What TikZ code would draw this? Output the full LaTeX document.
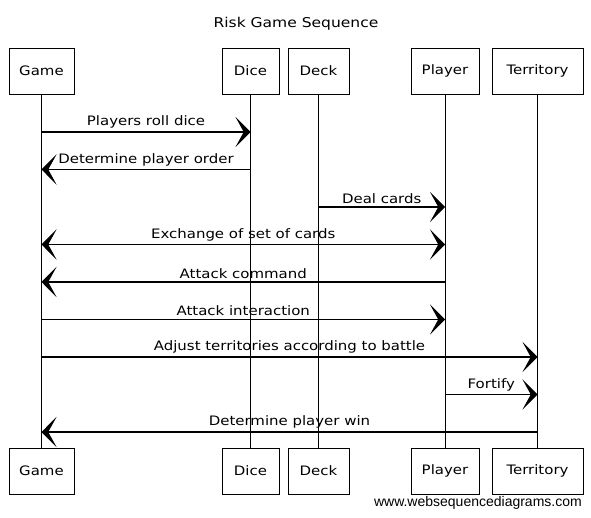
\documentclass[tikz,border=0pt]{standalone}
\usepackage{fontspec}
\usetikzlibrary{arrows.meta}
\newfontfamily\wsdfont{Liberation Sans}
\newfontfamily\seqfont[FakeStretch=1.15]{DejaVu Sans}
\newcommand{\SeqArrowSize}{15}

\begin{document}
\begin{tikzpicture}[x=1pt, y=-1pt, >={Stealth[length=\SeqArrowSize pt, width=2*\SeqArrowSize pt, inset=0.55*\SeqArrowSize pt]},
    actor/.style={draw, line width=0.9pt, minimum height=46pt, inner sep=0pt, font=\seqfont\fontsize{13}{15}\selectfont},
    lifeline/.style={line width=0.8pt},
    msg/.style={line width=1.1pt},
    lbl/.style={midway, above=2pt, inner sep=1pt, font=\seqfont\fontsize{13}{15}\selectfont}]
    \useasboundingbox (0,0) rectangle (591,518);

    % title
    \node (title) at (296,24) [font=\seqfont\fontsize{13.5}{15}\selectfont] {Risk Game Sequence};

    % draw participants, top and bottom
    \node (gameT) at (41.5,71) [actor, minimum width=65pt] {Game};
    \node (diceT) at (250.5,71) [actor, minimum width=57pt] {Dice};
    \node (deckT) at (318.5,71) [actor, minimum width=61pt] {Deck};
    \node (playerT) at (445,71) [actor, minimum width=68pt] {Player};
    \node (terrT) at (537.5,71) [actor, minimum width=91pt] {Territory};

    \node (gameB) at (41.5,471) [actor, minimum width=65pt] {Game};
    \node (diceB) at (250.5,471) [actor, minimum width=57pt] {Dice};
    \node (deckB) at (318.5,471) [actor, minimum width=61pt] {Deck};
    \node (playerB) at (445,471) [actor, minimum width=68pt] {Player};
    \node (terrB) at (537.5,471) [actor, minimum width=91pt] {Territory};

    % draw lifelines
    \draw[lifeline] (gameT) -- (gameB);
    \draw[lifeline] (diceT) -- (diceB);
    \draw[lifeline] (deckT) -- (deckB);
    \draw[lifeline] (playerT) -- (playerB);
    \draw[lifeline] (terrT) -- (terrB);

    % message levels
    \coordinate (m1) at (0,132);
    \coordinate (m2) at (0,169.5);
    \coordinate (m3) at (0,207);
    \coordinate (m4) at (0,244.5);
    \coordinate (m5) at (0,282);
    \coordinate (m6) at (0,319.5);
    \coordinate (m7) at (0,357);
    \coordinate (m8) at (0,394.5);
    \coordinate (m9) at (0,432);

    % draw messages
    \draw[msg, ->] (gameT |- m1) -- (diceT |- m1) node[lbl] {Players roll dice};
    \draw[msg, ->] (diceT |- m2) -- (gameT |- m2) node[lbl] {Determine player order};
    \draw[msg, ->] (deckT |- m3) -- (playerT |- m3) node[lbl] {Deal cards};
    \draw[msg, <->] (gameT |- m4) -- (playerT |- m4) node[lbl] {Exchange of set of cards};
    \draw[msg, ->] (playerT |- m5) -- (gameT |- m5) node[lbl] {Attack command};
    \draw[msg, ->] (gameT |- m6) -- (playerT |- m6) node[lbl] {Attack interaction};
    \draw[msg, ->] (gameT |- m7) -- (terrT |- m7) node[lbl] {Adjust territories according to battle};
    \draw[msg, ->] (playerT |- m8) -- (terrT |- m8) node[lbl] {Fortify};
    \draw[msg, ->] (terrT |- m9) -- (gameT |- m9) node[lbl] {Determine player win};

    \node (wsd) at (582,503) [anchor=east, inner sep=0pt, font=\wsdfont\fontsize{14}{16}\selectfont] {www.websequencediagrams.com};
  \end{tikzpicture}
\end{document}
